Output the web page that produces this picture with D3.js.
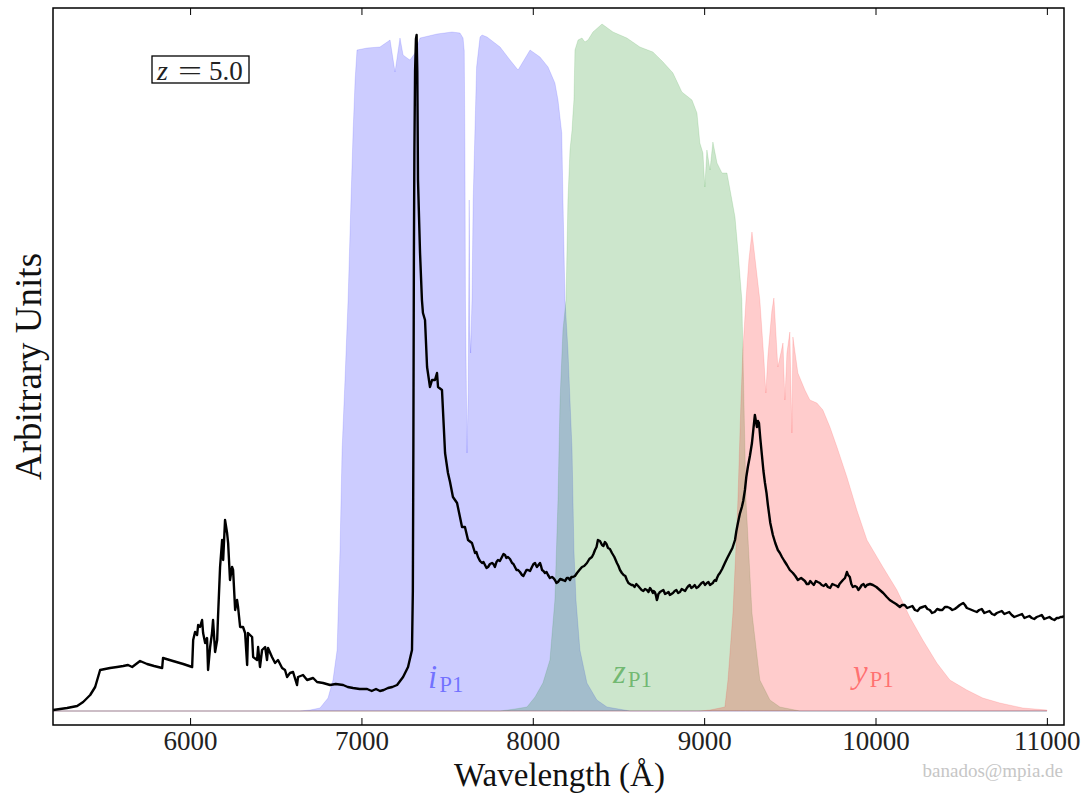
<!DOCTYPE html>
<html>
<head>
<meta charset="utf-8">
<script src="https://cdn.jsdelivr.net/npm/d3@7"></script>
<style>
  body { margin: 0; background: #fff; }
  svg text { font-family: "Liberation Serif", "Times New Roman", serif; }
</style>
</head>
<body>
<svg id="chart" width="1092" height="794"></svg>
<script>
// Observed wavelength (Å) tick values
const xTicks = [6000, 7000, 8000, 9000, 10000, 11000];

// Quasar template at z = 5.0: [wavelength Å, flux in arbitrary units]
const spectrum = [
  [5201,1],[5282,3],[5341,5],[5376,9],[5417,16],[5446,24],[5475,41],[5533,43],[5574,44],[5610,45],
  [5638,46],[5662,44],[5708,50],[5749,47],[5790,45],[5837,43],[5842,53],[5900,50],[5960,47],[6012,44],
  [6018,71],[6029,79],[6041,76],[6047,86],[6058,84],[6070,91],[6076,78],[6088,68],[6099,73],[6105,41],
  [6117,64],[6128,78],[6134,91],[6146,59],[6158,71],[6163,94],[6175,144],[6187,171],[6193,151],[6204,191],
  [6216,178],[6222,168],[6233,131],[6245,144],[6251,141],[6263,101],[6274,111],[6280,104],[6292,84],[6309,84],
  [6321,78],[6333,46],[6338,78],[6362,74],[6368,54],[6391,51],[6397,64],[6408,44],[6420,61],[6438,64],
  [6449,51],[6455,63],[6478,54],[6496,48],[6513,51],[6537,43],[6554,41],[6566,34],[6583,38],[6601,39],
  [6624,26],[6630,34],[6659,36],[6683,31],[6718,33],[6741,29],[6776,28],[6817,26],[6850,27],[6893,26],
  [6920,24],[6951,23],[6990,22],[7033,22],[7060,20],[7085,22],[7108,20],[7130,21],[7155,23],[7180,24],
  [7208,26],[7243,34],[7272,44],[7295,61],[7300,120],[7303,260],[7306,450],[7309,560],[7313,640],[7318,672],
  [7322,676],[7326,640],[7330,531],[7342,458],[7353,411],[7359,398],[7371,391],[7383,344],[7400,324],[7412,331],
  [7429,331],[7441,338],[7447,324],[7470,321],[7488,258],[7505,238],[7517,229],[7534,214],[7558,208],[7575,194],
  [7587,184],[7604,184],[7622,171],[7645,168],[7654,163],[7663,158],[7671,159],[7680,154],[7692,150],[7704,148],
  [7712,149],[7721,146],[7730,143],[7739,144],[7750,147],[7762,148],[7770,147],[7779,144],[7788,149],[7797,151],
  [7808,150],[7820,154],[7829,157],[7838,156],[7846,153],[7855,154],[7867,152],[7879,148],[7887,147],[7896,144],
  [7905,141],[7914,141],[7925,139],[7937,136],[7945,135],[7954,138],[7963,141],[7972,141],[7984,140],[7995,144],
  [8004,147],[8013,148],[8018,146],[8024,144],[8033,146],[8042,148],[8048,145],[8054,141],[8062,140],[8071,138],
  [8080,139],[8089,136],[8100,133],[8112,134],[8120,133],[8129,131],[8138,128],[8147,129],[8160,132],[8176,131],
  [8188,130],[8199,133],[8208,133],[8217,131],[8225,134],[8234,134],[8246,135],[8258,138],[8272,141],[8287,144],
  [8300,145],[8316,148],[8330,152],[8345,154],[8354,157],[8363,161],[8372,164],[8380,171],[8392,170],[8404,166],
  [8412,165],[8421,169],[8430,167],[8439,163],[8450,162],[8462,158],[8476,154],[8491,148],[8500,145],[8509,141],
  [8520,138],[8530,136],[8540,135],[8549,131],[8558,128],[8567,127],[8576,126],[8584,126],[8594,124],[8604,127],
  [8615,125],[8625,123],[8635,121],[8645,120],[8655,122],[8666,121],[8675,119],[8684,123],[8692,121],[8701,118],
  [8706,120],[8712,119],[8718,116],[8724,111],[8728,113],[8733,117],[8738,118],[8742,119],[8752,120],[8762,121],
  [8772,117],[8783,118],[8792,119],[8800,116],[8809,117],[8818,118],[8828,120],[8838,121],[8848,118],[8859,119],
  [8869,122],[8879,121],[8889,120],[8899,123],[8908,125],[8916,126],[8925,123],[8934,124],[8945,126],[8955,123],
  [8965,124],[8975,126],[8985,128],[8995,129],[9005,126],[9016,128],[9025,129],[9034,126],[9042,127],[9051,128],
  [9057,130],[9063,131],[9069,130],[9075,133],[9083,136],[9092,138],[9105,142],[9121,148],[9135,153],[9150,158],
  [9165,163],[9180,171],[9188,180],[9197,188],[9208,197],[9220,204],[9228,210],[9238,221],[9246,234],[9255,244],
  [9267,255],[9279,268],[9288,283],[9296,296],[9302,290],[9308,284],[9314,290],[9320,288],[9328,272],[9337,256],
  [9346,240],[9355,228],[9364,218],[9372,206],[9386,188],[9401,176],[9415,168],[9430,161],[9442,158],[9454,154],
  [9468,150],[9483,146],[9500,141],[9518,138],[9532,135],[9547,131],[9566,133],[9588,130],[9599,127],[9610,127],
  [9619,130],[9629,128],[9640,126],[9652,130],[9663,129],[9675,128],[9686,126],[9698,125],[9710,127],[9722,124],
  [9735,123],[9748,127],[9761,126],[9775,125],[9782,124],[9790,127],[9800,129],[9810,131],[9822,133],[9833,139],
  [9840,136],[9850,134],[9859,127],[9868,124],[9880,125],[9891,124],[9900,121],[9909,123],[9920,126],[9930,127],
  [9940,124],[9950,126],[9968,127],[9985,126],[10005,124],[10025,121],[10045,118],[10066,114],[10083,111],[10101,109],
  [10120,107],[10142,104],[10155,106],[10170,106],[10185,103],[10200,104],[10215,105],[10230,101],[10245,100],[10259,103],
  [10275,104],[10290,105],[10303,102],[10317,101],[10330,98],[10345,99],[10360,102],[10376,101],[10390,101],[10405,104],
  [10420,104],[10434,103],[10448,101],[10463,102],[10478,104],[10492,106],[10502,107],[10512,108],[10522,106],[10533,103],
  [10548,102],[10562,101],[10576,100],[10591,99],[10605,101],[10620,102],[10635,98],[10650,99],[10665,100],[10680,97],
  [10694,96],[10708,98],[10722,99],[10737,100],[10752,97],[10766,98],[10780,99],[10795,96],[10810,94],[10825,95],
  [10840,96],[10855,97],[10869,93],[10883,94],[10898,95],[10912,93],[10926,92],[10941,94],[10956,95],[10970,96],
  [10985,92],[11000,93],[11015,94],[11030,92],[11044,91],[11058,93],[11069,93],[11080,94],[11090,94],[11099,95]
];

// Pan-STARRS1 filter throughputs (same arbitrary units): [wavelength Å, throughput]
const filterI = [
  [5200,0],[6583,0],[6642,0],[6700,1],[6758,3],[6805,13],[6834,31],[6858,61],[6875,161],[6887,261],
  [6904,331],[6922,411],[6939,511],[6951,578],[6963,631],[6974,661],[7033,663],[7108,664],[7167,671],[7196,639],
  [7225,673],[7243,656],[7266,653],[7283,651],[7313,658],[7342,673],[7441,677],[7528,679],[7575,678],[7593,673],
  [7600,660],[7604,560],[7607,411],[7612,330],[7616,258],[7623,320],[7629,511],[7633,380],[7637,358],[7645,411],
  [7652,511],[7662,578],[7672,644],[7692,674],[7704,676],[7733,674],[7809,664],[7867,651],[7914,641],[7984,661],
  [8042,654],[8089,644],[8129,628],[8147,611],[8169,578],[8176,511],[8188,411],[8205,361],[8217,311],[8229,261],
  [8240,161],[8252,111],[8275,61],[8316,28],[8374,11],[8433,4],[8567,0],[11000,0]
];

const filterZ = [
  [5200,0],[7809,0],[7896,2],[7966,4],[8013,14],[8059,28],[8100,51],[8129,111],[8147,211],[8159,311],
  [8176,381],[8194,411],[8205,511],[8217,561],[8229,581],[8234,596],[8240,611],[8246,661],[8264,671],[8287,673],
  [8304,669],[8322,671],[8351,679],[8404,687],[8468,679],[8549,673],[8625,664],[8701,659],[8760,649],[8818,638],
  [8870,619],[8929,611],[8958,598],[8975,568],[8993,558],[9004,524],[9016,561],[9034,541],[9051,569],[9075,548],
  [9104,538],[9133,538],[9162,511],[9180,494],[9197,461],[9220,411],[9232,311],[9244,211],[9279,98],[9325,31],
  [9384,11],[9442,4],[9559,0],[11000,0]
];

const filterY = [
  [5200,0],[8975,0],[9034,1],[9121,4],[9139,31],[9168,98],[9185,161],[9197,211],[9215,311],[9226,361],
  [9244,411],[9261,451],[9279,479],[9302,445],[9325,411],[9349,351],[9360,318],[9372,355],[9395,400],[9407,413],
  [9430,344],[9460,368],[9471,311],[9483,358],[9500,379],[9512,278],[9518,374],[9547,338],[9588,321],[9617,311],
  [9658,308],[9693,301],[9734,284],[9775,264],[9833,234],[9891,201],[9950,171],[10043,144],[10125,121],[10200,94],
  [10276,71],[10358,48],[10434,31],[10533,21],[10626,13],[10726,8],[10860,3],[11000,1]
];

const bandNames = ["i", "z", "y"];
const bandSubscript = "P1";
const redshift = "5.0";

// ---- layout ----
const frame = { left: 53, right: 1064, top: 8, bottom: 725 };
const bandStyle = {
  i: { data: filterI, color: "#0000ff", labelAt: 7389, baseline: 688 },
  z: { data: filterZ, color: "#008000", labelAt: 8468, baseline: 683 },
  y: { data: filterY, color: "#ff0000", labelAt: 9868, baseline: 683 }
};

const svg = d3.select("#chart");

const x = d3.scaleLinear().domain([5200, 11100]).range([frame.left, frame.right]);
const y = d3.scaleLinear().domain([-14, 703]).range([frame.bottom, frame.top]);

svg.append("defs").append("clipPath").attr("id", "plot-clip")
  .append("rect")
  .attr("x", frame.left).attr("y", frame.top)
  .attr("width", frame.right - frame.left).attr("height", frame.bottom - frame.top);

const plot = svg.append("g").attr("clip-path", "url(#plot-clip)");

// filter throughput bands
const area = d3.area()
  .x(d => x(d[0]))
  .y0(y(0))
  .y1(d => y(d[1]));

bandNames.forEach(name => {
  const s = bandStyle[name];
  plot.append("path")
    .datum(s.data)
    .attr("d", area)
    .attr("fill", s.color)
    .attr("fill-opacity", 0.2)
    .attr("stroke", s.color)
    .attr("stroke-opacity", 0.12)
    .attr("stroke-width", 1);
});

// band labels
bandNames.forEach(name => {
  const s = bandStyle[name];
  const t = svg.append("text")
    .attr("x", x(s.labelAt))
    .attr("y", s.baseline)
    .attr("fill", s.color)
    .attr("fill-opacity", 0.45);
  t.append("tspan").attr("font-style", "italic").attr("font-size", 33).text(name);
  t.append("tspan").attr("font-size", 23).attr("dx", 2).attr("dy", 4).text(bandSubscript);
});

// spectrum
const line = d3.line()
  .x(d => x(d[0]))
  .y(d => y(d[1]));

plot.append("path")
  .datum(spectrum)
  .attr("d", line)
  .attr("fill", "none")
  .attr("stroke", "#000")
  .attr("stroke-width", 2.4)
  .attr("stroke-linejoin", "round");

// axes: inward ticks on top and bottom
const bottomAxis = d3.axisBottom(x)
  .tickValues(xTicks)
  .tickFormat(d3.format("d"))
  .tickSizeInner(-7)
  .tickSizeOuter(0)
  .tickPadding(6);

const gx = svg.append("g")
  .attr("transform", `translate(0,${frame.bottom})`)
  .call(bottomAxis);
gx.select(".domain").remove();
gx.selectAll(".tick line").attr("stroke", "#000").attr("stroke-width", 1);
gx.selectAll(".tick text")
  .attr("font-family", "Liberation Serif, serif")
  .attr("font-size", 27)
  .attr("fill", "#222");

const topAxis = d3.axisTop(x)
  .tickValues(xTicks)
  .tickFormat("")
  .tickSizeInner(-7)
  .tickSizeOuter(0);

const gt = svg.append("g")
  .attr("transform", `translate(0,${frame.top})`)
  .call(topAxis);
gt.select(".domain").remove();
gt.selectAll(".tick line").attr("stroke", "#000").attr("stroke-width", 1);

// frame
svg.append("rect")
  .attr("x", frame.left).attr("y", frame.top)
  .attr("width", frame.right - frame.left).attr("height", frame.bottom - frame.top)
  .attr("fill", "none")
  .attr("stroke", "#000")
  .attr("stroke-width", 1.5);

// axis titles
svg.append("text")
  .attr("x", (frame.left + frame.right) / 2 + 1)
  .attr("y", 786)
  .attr("text-anchor", "middle")
  .attr("font-size", 33)
  .attr("fill", "#111")
  .text("Wavelength (Å)");

svg.append("text")
  .attr("transform", `translate(41,${(frame.top + frame.bottom) / 2}) rotate(-90)`)
  .attr("text-anchor", "middle")
  .attr("font-size", 37)
  .attr("fill", "#111")
  .text("Arbitrary Units");

// redshift box
const zBox = svg.append("g");
zBox.append("rect")
  .attr("x", 152).attr("y", 56).attr("width", 97).attr("height", 27)
  .attr("fill", "#fff").attr("stroke", "#000").attr("stroke-width", 1.3);
zBox.append("text").attr("x", 157).attr("y", 80)
  .attr("font-size", 28).attr("font-style", "italic").attr("fill", "#222").text("z");
zBox.append("text").attr("x", 178).attr("y", 80)
  .attr("font-size", 27).attr("fill", "#222")
  .attr("textLength", 24).attr("lengthAdjust", "spacingAndGlyphs").text("=");
zBox.append("text").attr("x", 209).attr("y", 80)
  .attr("font-size", 27).attr("fill", "#222").text(redshift);

// credit
svg.append("text")
  .attr("x", 1063).attr("y", 777)
  .attr("text-anchor", "end")
  .attr("font-size", 19)
  .attr("fill", "#c6c6c6")
  .text("banados@mpia.de");
</script>
</body>
</html>
